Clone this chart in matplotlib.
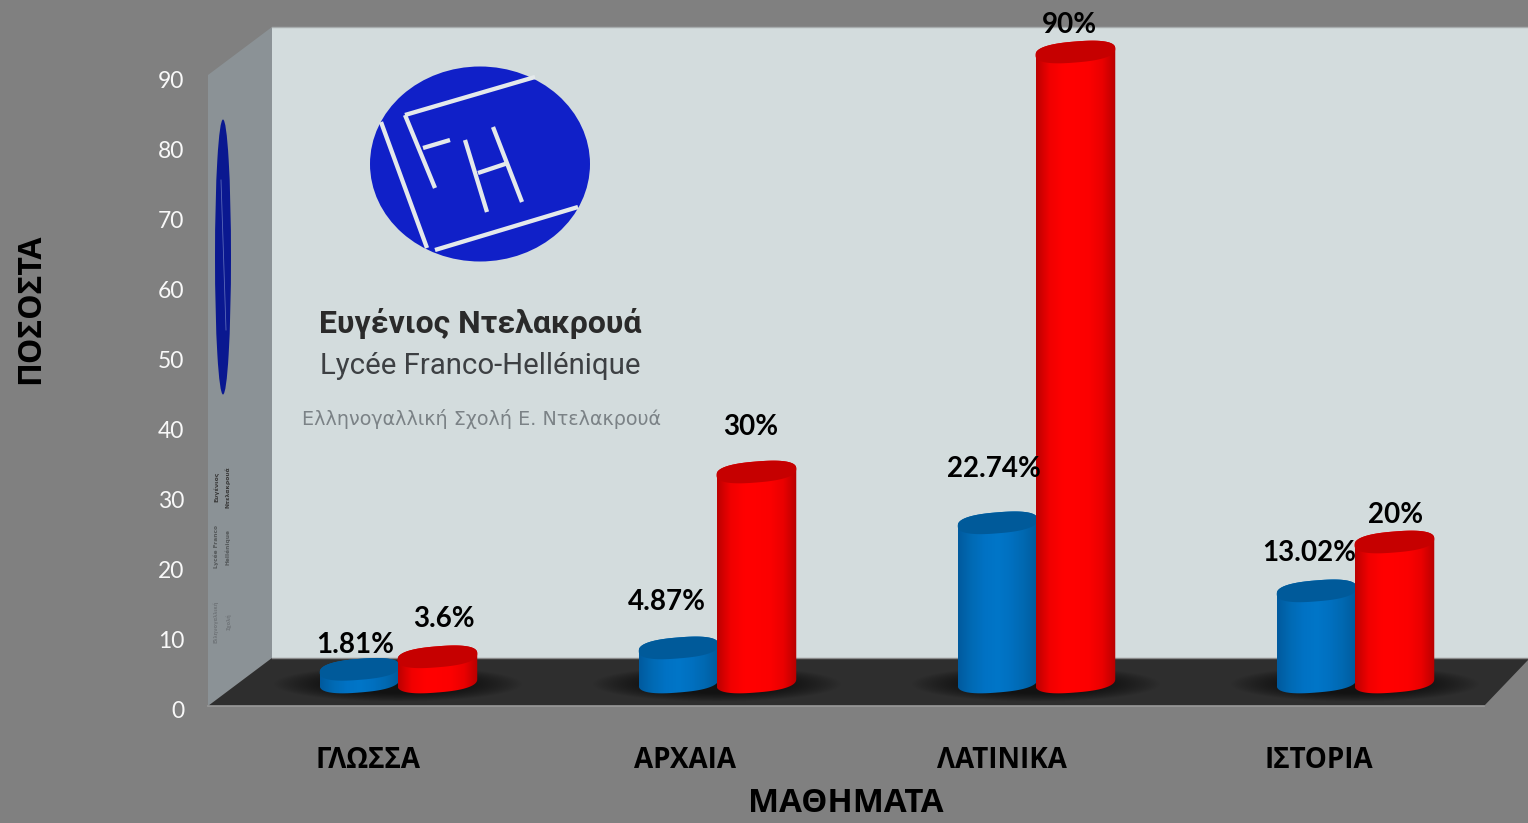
import numpy as np
import matplotlib
matplotlib.use("Agg")
import matplotlib.pyplot as plt
from matplotlib.colors import LinearSegmentedColormap
from matplotlib.patches import Ellipse, Polygon

categories = ["ΓΛΩΣΣΑ", "ΑΡΧΑΙΑ", "ΛΑΤΙΝΙΚΑ", "ΙΣΤΟΡΙΑ"]
blue_values = [1.81, 4.87, 22.74, 13.02]
red_values = [3.6, 30, 90, 20]
blue_labels = ["1.81%", "4.87%", "22.74%", "13.02%"]
red_labels = ["3.6%", "30%", "90%", "20%"]
y_ticks = [0, 10, 20, 30, 40, 50, 60, 70, 80, 90]

# label offsets from the top of each bar, in pixels
blue_offsets = [(-4, 24), (-12, 46), (-4, 54), (-7, 38)]
red_offsets = [(7, 38), (-6, 45), (-6, 27), (1, 27)]

W, H = 1528, 823
TEXT_FONT = ["Lato", "Open Sans", "DejaVu Sans"]
GREEK_FONT = ["Open Sans", "DejaVu Sans"]

fig = plt.figure(figsize=(W / 100, H / 100), dpi=100, facecolor="#808080")


def box(left, bottom_px, width, height):
    return [left / W, (H - bottom_px) / H, width / W, height / H]


# background in pixel coordinates: walls, floor, logo
bg = fig.add_axes([0, 0, 1, 1], zorder=0)
bg.set_xlim(0, W)
bg.set_ylim(H, 0)
bg.axis("off")

bg.add_patch(Polygon([(272, 27), (1528, 27), (1528, 658), (272, 658)], fc="#d3dcdd", ec="none"))
bg.plot([272, 1528], [27, 27], color="#a8adae", lw=1)
bg.add_patch(Polygon([(208, 75), (272, 27), (272, 658), (208, 706)], fc="#8b9296", ec="none"))
bg.add_patch(Polygon([(208, 706), (272, 658), (1528, 658), (1528, 660), (1484, 706)], fc="#2e2e2e", ec="none"))
bg.plot([208, 1484], [706, 706], color="#9a9a9a", lw=1.2)
bg.plot([272, 1528], [658, 658], color="#8a8a8a", lw=1)

# logo on the back wall
LOGO_BLUE = "#1020c8"
LOGO_LINE = "#e4e9eb"
bg.add_patch(Ellipse((480, 164), 220, 195, fc=LOGO_BLUE, ec="none"))
logo_lines = [
    ((381, 122), (427, 248)), ((405, 115), (535, 77)), ((405, 115), (435, 188)),
    ((423, 148), (450, 140)), ((465, 140), (487, 212)), ((493, 127), (522, 202)),
    ((478, 173), (508, 163)), ((435, 250), (578, 207)),
]
for a, b in logo_lines:
    bg.plot([a[0], b[0]], [a[1], b[1]], color=LOGO_LINE, lw=3.1, solid_capstyle="butt")

NARROW = ["Roboto", "DejaVu Sans"]
bg.text(480, 323, "Ευγένιος Ντελακρουά", family=NARROW, fontsize=23, fontweight="bold",
        color="#2a2a2a", ha="center", va="center")
bg.text(480, 366, "Lycée Franco-Hellénique", family=NARROW, fontsize=21.2,
        color="#3d4043", ha="center", va="center")
bg.text(481, 419, "Ελληνογαλλική Σχολή Ε. Ντελακρουά", family="DejaVu Sans", fontsize=13.8,
        color="#7b8286", ha="center", va="center")

# mirrored logo squeezed on the side wall
bg.add_patch(Ellipse((223, 257), 16, 275, fc="#0a1890", ec="none"))
bg.plot([221, 226], [180, 330], color="#5a68b8", lw=0.6)
bg.text(222, 487, "Ευγένιος\nΝτελακρουά", family="DejaVu Sans", fontsize=4.4, fontweight="bold",
        color="#3a3a3a", rotation=90, ha="center", va="center", linespacing=2.3, multialignment="center")
bg.text(222, 547, "Lycée Franco\nHellénique", family="DejaVu Sans", fontsize=4.2, fontweight="bold",
        color="#55595b", rotation=90, ha="center", va="center", linespacing=2.3, multialignment="center")
bg.text(222, 622, "Ελληνογαλλική\nΣχολή", family="DejaVu Sans", fontsize=3.6, fontweight="bold",
        color="#71767a", rotation=90, ha="center", va="center", linespacing=2.6, multialignment="center")

# bars sit on an axes shifted by the depth of the floor
bx = fig.add_axes(box(238, 682, 1276, 630), zorder=1)
bx.patch.set_alpha(0)
bx.axis("off")
bx.set_xlim(-0.5, 3.5)
bx.set_ylim(0, 90)
PX_X = 1276 / 4
PX_Y = 630 / 90
BAR_W = 0.25

blue_cmap = LinearSegmentedColormap.from_list(
    "b", ["#005a9e", "#006ab4", "#0072c4", "#0076c8", "#0070c0", "#0068b0", "#005a9c"])
red_cmap = LinearSegmentedColormap.from_list(
    "r", ["#bc0000", "#f00000", "#ff0000", "#ff0000", "#fc0000", "#ea0000", "#b80000"])


def ellipse_pts(cx, value, t):
    # slanted, slightly squared ellipse of the cylinder ends
    c, s = np.cos(t), np.sin(t)
    c = np.sign(c) * np.abs(c) ** 0.8
    s = np.sign(s) * np.abs(s) ** 0.8
    dx = BAR_W / 2 * c
    dy = (10.5 * s + 0.08 * (BAR_W / 2 * PX_X) * c) / PX_Y
    return np.column_stack([cx + dx, value + dy])


def cylinder(cx, value, cmap, top_color, z):
    back = ellipse_pts(cx, value, np.linspace(np.pi, 0, 60))
    front = ellipse_pts(cx, 0, np.linspace(0, -np.pi, 60))
    outline = Polygon(np.vstack([back, front]), closed=True, transform=bx.transData, fc="none", ec="none")
    bx.add_patch(outline)
    outline.set_clip_on(False)
    grad = np.linspace(0, 1, 128).reshape(1, -1)
    im = bx.imshow(grad, cmap=cmap, aspect="auto", zorder=z,
                   extent=[cx - BAR_W / 2, cx + BAR_W / 2, -3, value + 3])
    im.set_clip_path(outline)
    im.set_clip_box(fig.bbox)
    top = ellipse_pts(cx, value, np.linspace(0, 2 * np.pi, 120))
    bx.add_patch(Polygon(top, closed=True, fc=top_color, ec="none", zorder=z + 0.1, clip_on=False))


# soft shadows on the floor
gx, gy = np.meshgrid(np.linspace(-1, 1, 200), np.linspace(-1, 1, 60))
shadow = np.zeros(gx.shape + (4,))
shadow[..., 3] = 0.6 * np.clip(1.3 - (gx ** 2 + gy ** 2) ** 1.1 * 1.3, 0, 1)
for i in range(len(categories)):
    im = bx.imshow(shadow, aspect="auto", zorder=1,
                   extent=[i - 125 / PX_X, i + 125 / PX_X, -20 / PX_Y, 16 / PX_Y])
    im.set_clip_box(fig.bbox)

for i in range(len(categories)):
    blue_x = i - BAR_W / 2 + 2 / PX_X
    red_x = i + BAR_W / 2
    cylinder(blue_x, blue_values[i], blue_cmap, "#005a9a", 2)
    cylinder(red_x, red_values[i], red_cmap, "#c60000", 3)
    bx.annotate(blue_labels[i], (blue_x, blue_values[i]),
                xytext=(blue_offsets[i][0] * 0.72, blue_offsets[i][1] * 0.72),
                textcoords="offset points", family=TEXT_FONT, fontsize=20, fontweight="bold",
                color="black", ha="center", va="center", zorder=5, annotation_clip=False)
    bx.annotate(red_labels[i], (red_x, red_values[i]),
                xytext=(red_offsets[i][0] * 0.72, red_offsets[i][1] * 0.72),
                textcoords="offset points", family=TEXT_FONT, fontsize=20, fontweight="bold",
                color="black", ha="center", va="center", zorder=5, annotation_clip=False)

bx.set_xlim(-0.5, 3.5)
bx.set_ylim(0, 90)

# the axes carrying ticks and labels
ax = fig.add_axes(box(209.5, 710, 1268, 630), zorder=2)
ax.patch.set_alpha(0)
for s in ax.spines.values():
    s.set_visible(False)
ax.set_xlim(-0.5, 3.5)
ax.set_ylim(0, 90)
ax.set_yticks(y_ticks)
ax.set_xticks(range(len(categories)))
ax.set_xticklabels(categories, family=GREEK_FONT, fontsize=20, fontweight="bold", color="black")
ax.tick_params(axis="x", length=0, pad=26)
ax.tick_params(axis="y", length=0, pad=18, labelsize=16.5, labelcolor="#f8f8f8")
for t in ax.get_yticklabels():
    t.set_family(TEXT_FONT)
ax.set_xlabel("ΜΑΘΗΜΑΤΑ", family=GREEK_FONT, fontsize=23.8, fontweight="bold", color="black", va="center")
ax.xaxis.set_label_coords((846 - 209.5) / 1268, -94 / 630)
ax.set_ylabel("ΠΟΣΟΣΤΑ", family=GREEK_FONT, fontsize=23, fontweight="bold", color="black", va="center")
ax.yaxis.set_label_coords((31 - 209.5) / 1268, 401 / 630)

fig.savefig("out.png", dpi=100, facecolor=fig.get_facecolor())
